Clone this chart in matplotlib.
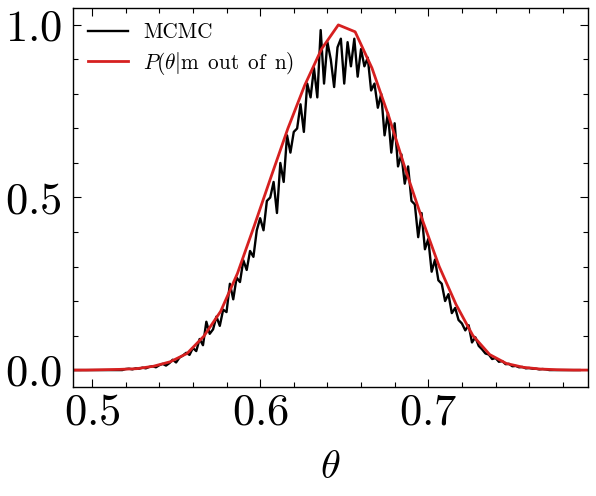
import matplotlib
matplotlib.use("Agg")
import matplotlib.pyplot as plt
import numpy as np
from matplotlib.ticker import MultipleLocator, FormatStrFormatter

plt.rcParams['mathtext.fontset'] = 'cm'
plt.rcParams['font.family'] = 'serif'
plt.rcParams['font.serif'] = ['cmr10', 'DejaVu Serif']

# MCMC histogram (normalised), bins of 0.002 from 0.490
y_tail_left = [0.0] * 15  # 0.490 .. 0.518
y_body = [
    0.003, 0.004, 0.002, 0.005, 0.004, 0.007, 0.005, 0.009, 0.011, 0.008,
    0.014, 0.018, 0.013, 0.020, 0.030, 0.022, 0.036, 0.042, 0.050, 0.044,
    0.064, 0.055, 0.090, 0.072, 0.140, 0.105, 0.118, 0.155, 0.128, 0.175,
    0.168, 0.250, 0.205, 0.268, 0.255, 0.318, 0.290, 0.345, 0.328, 0.405,
    0.440, 0.405, 0.490, 0.500, 0.545, 0.455, 0.600, 0.545, 0.680, 0.630,
    0.690, 0.700, 0.770, 0.690, 0.830, 0.790, 0.875, 0.790, 0.985, 0.830,
    0.950, 0.900, 0.820, 0.935, 0.960, 0.830, 0.950, 0.880, 0.960, 0.850,
    0.930, 0.880, 0.905, 0.810, 0.830, 0.760, 0.800, 0.680, 0.745, 0.630,
    0.715, 0.590, 0.625, 0.540, 0.590, 0.490, 0.480, 0.385, 0.455, 0.350,
    0.380, 0.285, 0.320, 0.260, 0.250, 0.200, 0.220, 0.165, 0.180, 0.145,
    0.135, 0.115, 0.130, 0.080, 0.095, 0.070, 0.060, 0.048, 0.045, 0.032,
    0.035, 0.024, 0.026, 0.017, 0.018, 0.011, 0.012, 0.008, 0.009, 0.005,
    0.006, 0.004, 0.004, 0.002, 0.003, 0.002,
]
y_tail_right = [0.0] * 10
y_mcmc = y_tail_left + y_body + y_tail_right
x_mcmc = np.round(0.490 + 0.002 * np.arange(len(y_mcmc)), 3)

# analytic posterior, coarse grid
x_post = [0.4865, 0.4965, 0.5065, 0.5165, 0.5265, 0.5365, 0.5465, 0.5565,
          0.5665, 0.5765, 0.5865, 0.5965, 0.6065, 0.6165, 0.6265, 0.6365,
          0.6465, 0.6565, 0.6665, 0.6765, 0.6865, 0.6965, 0.7065, 0.7165,
          0.7265, 0.7365, 0.7465, 0.7565, 0.7665, 0.7765, 0.7865, 0.7965]
y_post = [0.0, 0.0, 0.001, 0.002, 0.004, 0.011, 0.024, 0.048,
          0.098, 0.170, 0.280, 0.418, 0.560, 0.700, 0.825, 0.930,
          1.0, 0.980, 0.875, 0.735, 0.580, 0.435, 0.300, 0.190,
          0.100, 0.045, 0.019, 0.008, 0.003, 0.001, 0.0, 0.0]

fig = plt.figure(figsize=(5.96, 4.96), dpi=100)
ax = fig.add_axes([0.1225, 0.2198, 0.8641, 0.7641])

ax.plot(x_mcmc, y_mcmc, color='black', lw=1.7, label='MCMC')
ax.plot(x_post, y_post, color='#d62020', lw=2.0,
        label=r'$P(\theta|\mathrm{m\ \,out\ \,of\ \,n})$')

ax.set_xlim(0.4887, 0.795)
ax.set_ylim(-0.049, 1.049)

ax.xaxis.set_major_locator(MultipleLocator(0.1))
ax.xaxis.set_minor_locator(MultipleLocator(0.02))
ax.yaxis.set_major_locator(MultipleLocator(0.5))
ax.yaxis.set_minor_locator(MultipleLocator(0.1))
ax.xaxis.set_major_formatter(FormatStrFormatter(r'$%.1f$'))
ax.yaxis.set_major_formatter(FormatStrFormatter(r'$%.1f$'))

ax.tick_params(which='both', direction='in', top=True, right=True, width=0.8)
ax.tick_params(which='major', length=5.5, labelsize=32)
ax.tick_params(which='minor', length=3.5)
ax.tick_params(axis='x', which='major', pad=5)
ax.tick_params(axis='y', which='major', pad=8)
for s in ax.spines.values():
    s.set_linewidth(1.0)

ax.set_xlabel(r'$\theta$', fontsize=29, labelpad=12)

ax.legend(loc='upper left', frameon=False, fontsize=15.3,
          handlelength=1.9, handletextpad=0.7, labelspacing=0.35,
          borderaxespad=0.4, borderpad=0.3)

fig.savefig('out.png', dpi=100)
